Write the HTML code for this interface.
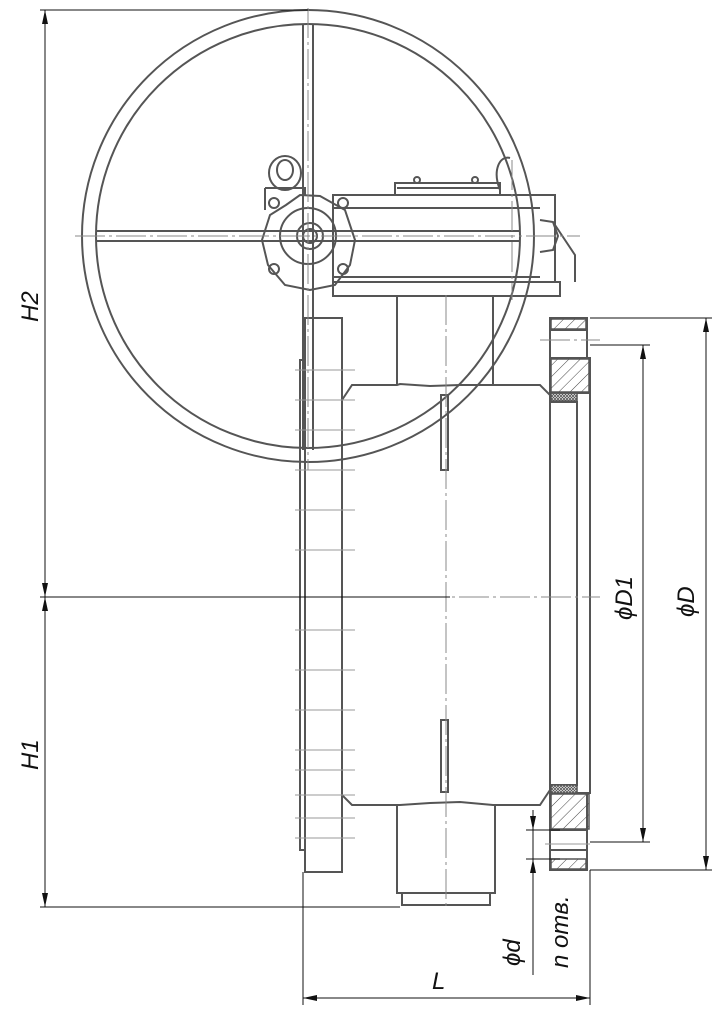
<!DOCTYPE html>
<html><head><meta charset="utf-8"><style>
html,body{margin:0;padding:0;background:#fff}
svg{display:block}
text{font-family:"Liberation Sans",sans-serif;font-style:italic;fill:#111}
</style></head><body>
<svg width="715" height="1010" viewBox="0 0 715 1010" xmlns="http://www.w3.org/2000/svg">
<defs>
<pattern id="h" width="8" height="8" patternUnits="userSpaceOnUse" patternTransform="rotate(45)">
<line x1="0" y1="0" x2="0" y2="8" stroke="#444" stroke-width="1"/></pattern>
<pattern id="x" width="3" height="3" patternUnits="userSpaceOnUse">
<rect width="3" height="3" fill="#fff"/><path d="M0 0L3 3M3 0L0 3" stroke="#555" stroke-width="0.8"/></pattern>
</defs>
<g fill="none" stroke="#555" stroke-width="2">
<rect x="305" y="318" width="37" height="554"/>
<path d="M305 360 H300 V850 H305"/>
<path d="M342 400 L352 385 H397 L400 384 L430 386 L460 385 L493 385 H540 L550 395 V790 L540 805 H493 L460 802 L430 803 L400 805 H352 L342 795 Z"/>
<path d="M397 384 V295 M493 385 V295"/>
<path d="M397 805 V893 H495 V805 M402 893 V905 H490 V893"/>
<rect x="441" y="395" width="7" height="75"/>
<rect x="441" y="720" width="7" height="72"/>
<path d="M550 318 H587 V358 H590 V793 H587 V850 H587 V870 H550 Z"/>
<path d="M550 330 H587 M550 358 H587 M550 393 H590 M550 402 H577 V785 H550 M550 793 H590 M550 830 H587 M550 850 H587"/>
<path d="M333 296 V282 H560 V296 Z"/>
<path d="M333 282 V195 H555 V282"/>
<path d="M333 208 H540 M333 277 H540"/>
<path d="M555 195 V225 L565 240 L575 255 V282"/>
<path d="M540 220 L553 222 L558 236 L553 250 L540 252"/>
<path d="M395 195 V183 H500 V195 M397 188 H500"/>
<circle cx="417" cy="180" r="3"/><circle cx="475" cy="180" r="3"/>
<path d="M500 190 C492 170 500 155 510 158"/>
<path d="M286 205 L270 215 L262 240 L268 265 L285 285 L310 290 L335 285 L350 265 L355 240 L345 210 L320 196 L300 195 Z"/>
<circle cx="308" cy="236" r="28"/>
<circle cx="310" cy="236" r="13"/>
<circle cx="310" cy="236" r="7"/>
<circle cx="274" cy="203" r="5"/><circle cx="343" cy="203" r="5"/>
<circle cx="274" cy="269" r="5"/><circle cx="343" cy="269" r="5"/>
<ellipse cx="285" cy="173" rx="16" ry="17"/><ellipse cx="285" cy="170" rx="8" ry="10"/>
<path d="M265 188 H305 V196 M265 188 V210"/>
<circle cx="308" cy="236" r="226"/>
<circle cx="308" cy="236" r="212"/>
<path d="M303 24 V450 M313 24 V450 M97 231 H520 M97 241 H520"/>
</g>
<g stroke="#555" stroke-width="1.5">
<rect x="551" y="319" width="35" height="10" fill="url(#h)"/>
<rect x="551" y="359" width="38" height="33" fill="url(#h)"/>
<rect x="551" y="794" width="38" height="35" fill="url(#h)"/>
<rect x="551" y="859" width="35" height="10" fill="url(#h)"/>
<rect x="551" y="393" width="26" height="8" fill="url(#x)"/>
<rect x="551" y="785" width="26" height="8" fill="url(#x)"/>
</g>
<g stroke="#888" stroke-width="1" stroke-dasharray="30 4 3 4">
<path d="M446 295 V910 M75 236 H580 M308 8 V470 M295 597 H600 M512 160 V300 M540 340 H600"/>
</g>
<g stroke="#999" stroke-width="1">
<path d="M295 370 H355 M295 400 H355 M295 430 H355 M295 470 H355 M295 510 H355 M295 550 H355 M295 630 H355 M295 670 H355 M295 710 H355 M295 750 H355 M295 770 H355 M295 795 H355 M295 818 H355 M295 838 H355 M545 844 H590"/>
</g>
<g stroke="#111" stroke-width="1" fill="none">
<path d="M40 10 H308 M40 597 H450 M40 907 H400"/>
<path d="M45 10 V907"/>
<path d="M590 318 H712 M590 345 H650 M590 842 H650 M590 870 H712"/>
<path d="M706 318 V870 M643 345 V842"/>
<path d="M303 872 V1005 M590 870 V1005 M303 998 H590"/>
<path d="M526 830 H560 M526 859 H560 M533 810 V975"/>
</g>
<g fill="#111">
<path d="M45 10 l-3 14 h6z M45 597 l-3 -14 h6z M45 597 l-3 14 h6z M45 907 l-3 -14 h6z"/>
<path d="M706 318 l-3 14 h6z M706 870 l-3 -14 h6z M643 345 l-3 14 h6z M643 842 l-3 -14 h6z"/>
<path d="M303 998 l14 -3 v6z M590 998 l-14 -3 v6z"/>
<path d="M533 830 l-3 -14 h6z M533 859 l-3 14 h6z"/>
</g>
<g font-size="24">
<text transform="translate(38,322) rotate(-90)">H2</text>
<text transform="translate(38,770) rotate(-90)">H1</text>
<text transform="translate(632,620) rotate(-90)">ϕD1</text>
<text transform="translate(694,617) rotate(-90)">ϕD</text>
<text transform="translate(520,966) rotate(-90)">ϕd</text>
<text transform="translate(568,968) rotate(-90)">n отв.</text>
<text x="432" y="989">L</text>
</g>
</svg>
</body></html>
